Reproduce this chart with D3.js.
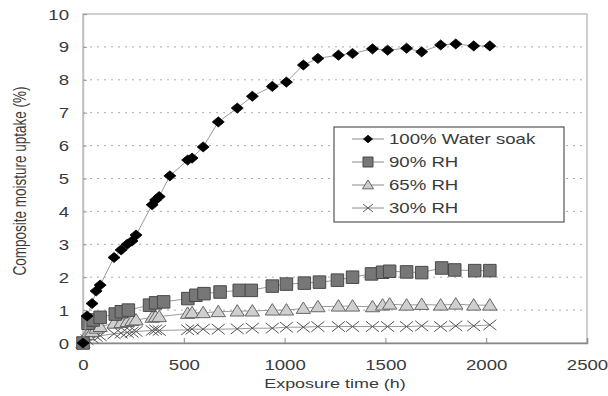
<!DOCTYPE html>
<html><head><meta charset="utf-8">
<script src="https://cdn.jsdelivr.net/npm/d3@7"></script>
<style>body{margin:0;background:#fff}svg{display:block}text{font-family:"Liberation Sans",Arial,sans-serif;fill:#3a3a3a}</style>
</head><body><svg id="c" width="608" height="396"></svg>
<script>
const xTicks=[0,500,1000,1500,2000,2500];
const yTicks=[0,1,2,3,4,5,6,7,8,9,10];
const seriesNames=["100% Water soak","90% RH","65% RH","30% RH"];
const waterT=[0,20,45,65,85,154,189,219,243,263,343,360,378,431,519,541,596,671,765,840,939,1009,1093,1165,1267,1337,1436,1511,1605,1680,1774,1849,1938,2018];
const waterV=[0,0.82,1.2,1.58,1.76,2.6,2.83,3.0,3.1,3.28,4.2,4.35,4.45,5.08,5.56,5.62,5.96,6.72,7.14,7.5,7.8,7.93,8.45,8.65,8.75,8.8,8.94,8.9,8.96,8.85,9.06,9.09,9.03,9.03];
const rh90T=[0,25,50,85,160,190,225,330,360,400,520,560,600,680,775,835,939,1009,1098,1173,1262,1337,1431,1486,1521,1605,1680,1779,1844,1943,2018];
const rh90V=[0,0.6,0.7,0.78,0.88,0.95,1.0,1.15,1.22,1.25,1.35,1.45,1.5,1.55,1.6,1.6,1.73,1.79,1.82,1.85,1.91,2.0,2.1,2.15,2.18,2.16,2.14,2.28,2.22,2.2,2.2];
const rh65T=[0,20,45,65,85,154,189,219,243,263,343,360,378,519,541,596,671,765,840,939,1009,1093,1165,1267,1337,1436,1486,1521,1605,1680,1774,1849,1938,2018];
const rh65V=[0,0.25,0.35,0.45,0.5,0.6,0.62,0.65,0.68,0.7,0.78,0.8,0.8,0.9,0.92,0.92,0.95,0.97,0.97,1.0,1.0,1.05,1.1,1.12,1.12,1.1,1.15,1.18,1.15,1.17,1.15,1.18,1.15,1.15];
const rh30T=[0,20,45,65,85,154,189,219,243,263,343,360,378,519,541,596,671,765,840,939,1009,1093,1165,1267,1337,1436,1511,1605,1680,1774,1849,1938,2018];
const rh30V=[0,0.1,0.15,0.2,0.22,0.28,0.3,0.32,0.33,0.35,0.38,0.4,0.38,0.4,0.42,0.42,0.42,0.43,0.45,0.45,0.48,0.48,0.5,0.5,0.5,0.5,0.5,0.5,0.52,0.5,0.52,0.52,0.55];

const SX=1.33; // horizontal text stretch seen in reference
const svg=d3.select("#c");
const x=d3.scaleLinear().domain([0,2500]).range([83,587]);
const y=d3.scaleLinear().domain([0,10]).range([343,14]);

// grid
svg.append("g").selectAll("line").data(yTicks.filter(d=>d>0&&d<10)).join("line")
 .attr("x1",x(0)).attr("x2",x(2500)).attr("y1",d=>y(d)).attr("y2",d=>y(d))
 .attr("stroke","#aaa").attr("stroke-width",1).attr("stroke-dasharray","2,5");
// frame
svg.append("rect").attr("x",x(0)).attr("y",y(10)).attr("width",x(2500)-x(0)).attr("height",y(0)-y(10))
 .attr("fill","none").attr("stroke","#b0b0b0").attr("stroke-width",1.2);

// axes
const gx=svg.append("g").attr("transform",`translate(0,${y(0)})`)
 .call(d3.axisBottom(x).tickValues(xTicks).tickSize(-5).tickPadding(0).tickFormat(d3.format("d")));
gx.select(".domain").attr("stroke","#888").attr("stroke-width",1.5);
gx.selectAll(".tick line").attr("stroke","#888");
gx.selectAll(".tick text").attr("font-size",14).attr("fill","#3a3a3a").attr("dy",0).attr("text-anchor","middle")
 .each(function(){const t=d3.select(this);t.attr("x",0).attr("y",0).attr("transform",`translate(0,27) scale(${SX},1)`);});

const gy=svg.append("g").attr("transform",`translate(${x(0)},0)`)
 .call(d3.axisLeft(y).tickValues(yTicks).tickSize(-4).tickPadding(0));
gy.select(".domain").attr("stroke","#c0c0c0").attr("stroke-width",1.5);
gy.selectAll(".tick line").attr("stroke","#999");
gy.selectAll(".tick text").attr("font-size",14).attr("fill","#3a3a3a").attr("dy",0).attr("text-anchor","end")
 .each(function(){const t=d3.select(this);t.attr("x",0).attr("y",0).attr("transform",`translate(-14,5) scale(${SX},1)`);});

// axis titles
svg.append("text").attr("font-size",13.5).attr("text-anchor","middle")
 .attr("transform",`translate(${x(1250)},388) scale(${SX},1)`).text("Exposure time (h)");
svg.append("text").attr("font-size",13.5).attr("text-anchor","middle")
 .attr("transform",`translate(26,181) rotate(-90) scale(1,${SX})`).text("Composite moisture uptake (%)");

// markers
function diamond(s){return `M0,${-s*0.42}L${s/2},0L0,${s*0.42}L${-s/2},0Z`;}
function square(s){return `M${-s/2},${-s/2}h${s}v${s}h${-s}Z`;}
function tri(s){return `M0,${-s*0.5}L${s*0.55},${s*0.38}L${-s*0.55},${s*0.38}Z`;}
function cross(s){const h=s/2;return `M${-h},${-h*0.8}L${h},${h*0.8}M${-h},${h*0.8}L${h},${-h*0.8}`;}

const series=[
 {name:seriesNames[0],t:waterT,v:waterV,path:diamond,size:12,fill:"#000",stroke:"#000",sw:0.8,lsize:9},
 {name:seriesNames[1],t:rh90T,v:rh90V,path:square,size:12.5,fill:"#777",stroke:"#484848",sw:1,lsize:10},
 {name:seriesNames[2],t:rh65T,v:rh65V,path:tri,size:13,fill:"#cfcfcf",stroke:"#666",sw:1,lsize:10},
 {name:seriesNames[3],t:rh30T,v:rh30V,path:cross,size:13,fill:"none",stroke:"#555",sw:1,lsize:10}
];
const line=d3.line().x(d=>x(d[0])).y(d=>y(d[1]));
series.slice().reverse().forEach(s=>{
  const pts=s.t.map((t,i)=>[t,s.v[i]]);
  svg.append("path").datum(pts).attr("d",line).attr("fill","none").attr("stroke","#9a9a9a").attr("stroke-width",1);
  svg.append("g").selectAll("path").data(pts).join("path")
   .attr("transform",d=>`translate(${x(d[0])},${y(d[1])})`)
   .attr("d",s.path(s.size)).attr("fill",s.fill).attr("stroke",s.stroke).attr("stroke-width",s.sw);
});

// legend
const lg=svg.append("g");
lg.append("rect").attr("x",334).attr("y",127).attr("width",230).attr("height",95)
 .attr("fill","#fff").attr("stroke","#555").attr("stroke-width",1.2);
series.forEach((s,i)=>{
  const cy=139+i*23;
  lg.append("line").attr("x1",352).attr("x2",384).attr("y1",cy).attr("y2",cy).attr("stroke","#8a8a8a").attr("stroke-width",1);
  lg.append("path").attr("transform",`translate(368,${cy})`).attr("d",s.path(s.lsize))
   .attr("fill",s.fill).attr("stroke",s.stroke).attr("stroke-width",s.sw);
  lg.append("text").attr("font-size",14).attr("transform",`translate(389,${cy+5}) scale(${SX},1)`).text(s.name);
});
</script></body></html>
